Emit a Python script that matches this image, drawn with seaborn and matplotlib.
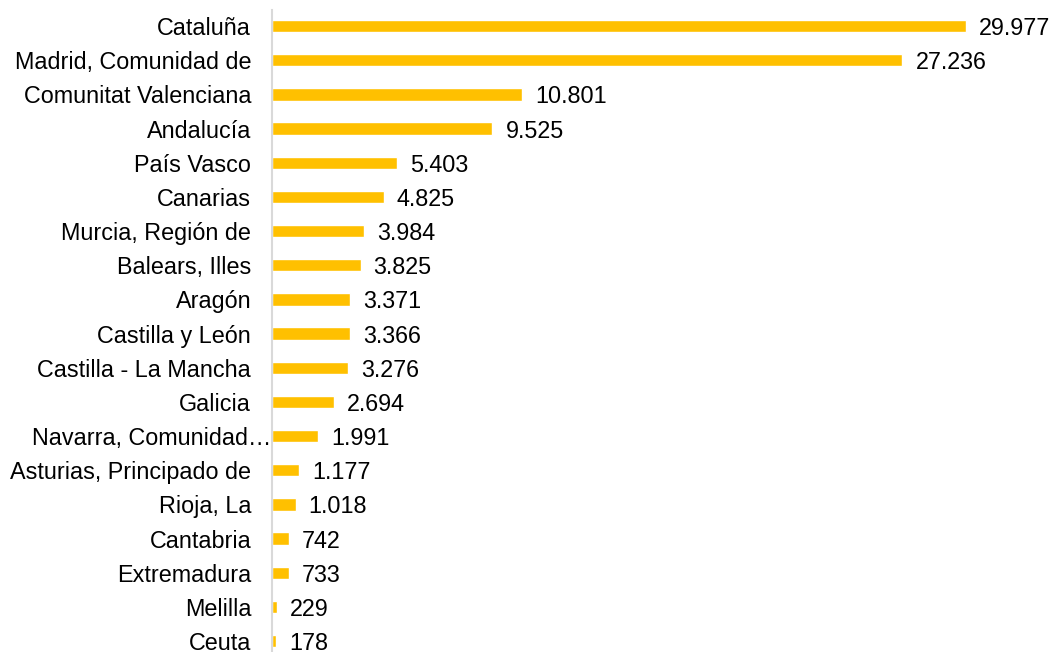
import matplotlib
matplotlib.use("Agg")
import matplotlib.pyplot as plt
import seaborn as sns
import pandas as pd

# Datos: empresas por comunidad autónoma
regiones = [
    "Cataluña", "Madrid, Comunidad de", "Comunitat Valenciana", "Andalucía",
    "País Vasco", "Canarias", "Murcia, Región de", "Balears, Illes", "Aragón",
    "Castilla y León", "Castilla - La Mancha", "Galicia", "Navarra, Comunidad…",
    "Asturias, Principado de", "Rioja, La", "Cantabria", "Extremadura",
    "Melilla", "Ceuta",
]
valores = [29977, 27236, 10801, 9525, 5403, 4825, 3984, 3825, 3371,
           3366, 3276, 2694, 1991, 1177, 1018, 742, 733, 229, 178]
etiquetas = ["29.977", "27.236", "10.801", "9.525", "5.403", "4.825", "3.984",
             "3.825", "3.371", "3.366", "3.276", "2.694", "1.991", "1.177",
             "1.018", "742", "733", "229", "178"]

df = pd.DataFrame({"region": regiones, "valor": valores})

sns.set_style("white")
plt.rcParams["font.family"] = ["Liberation Sans", "DejaVu Sans"]
fs = 16.8

fig = plt.figure(figsize=(10.56, 6.52), dpi=100)
ax = fig.add_axes([272 / 1056, 0, 1 - 272 / 1056, 1 - 10 / 652])

sns.barplot(data=df, x="valor", y="region", orient="h", color="#FFC000",
            width=0.36, saturation=1, ax=ax)

for i, (v, t) in enumerate(zip(valores, etiquetas)):
    ax.annotate(t, xy=(v, i), xytext=(13, 0), textcoords="offset pixels",
                ha="left", va="center_baseline", fontsize=fs, color="#000000")

ax.set_xlim(0, 33870)
ax.set_ylim(18.32, -0.47)
ax.set_xlabel("")
ax.set_ylabel("")
ax.set_xticks([])

# la etiqueta truncada de Navarra llega hasta el eje, como en Excel
nombres = list(regiones)
idx_nav = nombres.index("Navarra, Comunidad…")
nombres[idx_nav] = ""
ax.set_yticks(range(len(nombres)))
ax.set_yticklabels(nombres)
ax.annotate(regiones[idx_nav], xy=(0, idx_nav), xycoords=("axes fraction", "data"),
            xytext=(-1, 0), textcoords="offset pixels", ha="right",
            va="center_baseline", fontsize=fs, color="#000000")

ax.tick_params(axis="y", length=0, pad=15, labelsize=fs, labelcolor="#000000")

for s in ["top", "right", "bottom"]:
    ax.spines[s].set_visible(False)
ax.spines["left"].set_color("#D9D9D9")
ax.spines["left"].set_linewidth(1.5)

fig.savefig("out.png", dpi=100)
